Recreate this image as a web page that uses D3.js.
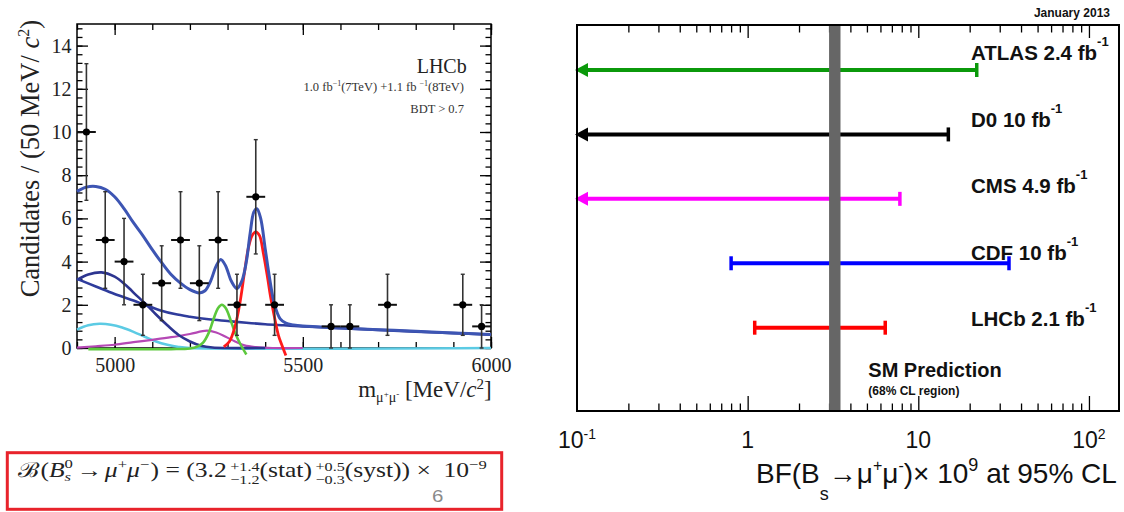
<!DOCTYPE html>
<html><head><meta charset="utf-8">
<script src="https://cdn.jsdelivr.net/npm/d3@7"></script>
<style>body{margin:0;background:#fff}svg{display:block}</style>
</head><body>
<svg id="c" width="1124" height="512"></svg>
<script>
// ---------- Left panel data (LHCb mass fit) ----------
const binCenters = [4925,4975,5025,5075,5125,5175,5225,5275,5325,5375,5425,5575,5625,5725,5925,5975];
const binCounts  = [10,5,4,2,3,5,3,5,2,7,2,1,1,2,2,1];
const massTicks  = [5000,5500,6000];
const countTicks = [0,2,4,6,8,10,12,14];

const totalFit = [[4900,7.25],[4925,7.45],[4950,7.48],[4975,7.35],[5000,7.0],[5025,6.45],[5050,5.8],[5075,5.2],[5100,4.55],[5125,3.95],[5150,3.4],[5175,3.0],[5200,2.7],[5225,2.55],[5240,2.65],[5255,3.1],[5270,3.8],[5282,4.1],[5295,3.8],[5310,3.1],[5325,2.75],[5338,3.1],[5350,4.0],[5360,5.3],[5370,6.3],[5378,6.45],[5388,6.0],[5400,4.6],[5412,3.2],[5425,2.0],[5440,1.35],[5455,1.15],[5475,1.07],[5500,1.02],[5600,0.93],[5700,0.85],[5800,0.77],[5900,0.7],[6000,0.63]];
const combBkg  = [[4900,3.2],[4950,2.85],[5000,2.5],[5050,2.2],[5080,2.0],[5120,1.75],[5160,1.57],[5200,1.45],[5250,1.33],[5300,1.25],[5350,1.17],[5400,1.1],[5450,1.05],[5500,1.0],[5600,0.92],[5700,0.84],[5800,0.76],[5900,0.69],[6000,0.62]];
const peakBkg  = [[4900,3.15],[4930,3.4],[4965,3.5],[5000,3.3],[5030,2.9],[5060,2.4],[5085,2.0],[5110,1.55],[5140,1.05],[5170,0.6],[5200,0.3],[5230,0.1],[5260,0.02],[5300,0.0],[5400,0.0]];
const cyanBkg  = [[4900,0.85],[4930,1.05],[4960,1.12],[4990,1.08],[5020,0.95],[5050,0.75],[5080,0.52],[5110,0.3],[5140,0.15],[5170,0.05],[5200,0.0],[6000,0.0]];
const pimunuBkg= [[4900,0.02],[4950,0.08],[5000,0.15],[5050,0.27],[5100,0.38],[5150,0.5],[5200,0.65],[5245,0.8],[5270,0.72],[5295,0.52],[5320,0.3],[5345,0.12],[5375,0.04],[5420,0.0],[5500,0.0]];
const bdSignal = [[4930,-0.05],[5150,-0.05],[5200,-0.02],[5218,0.05],[5235,0.25],[5250,0.7],[5262,1.3],[5275,1.85],[5285,2.0],[5295,1.85],[5308,1.3],[5320,0.7],[5335,0.15],[5350,-0.3]];
const bsSignal = [[5290,0.05],[5305,0.3],[5320,1.0],[5333,2.1],[5345,3.5],[5355,4.6],[5365,5.2],[5375,5.38],[5385,5.2],[5395,4.4],[5405,3.4],[5415,2.3],[5425,1.4],[5435,0.6],[5445,0.1],[5455,-0.35]];

// ---------- Right panel data (limits summary) ----------
const experiments = ["ATLAS 2.4 fb","D0 10 fb","CMS 4.9 fb","CDF 10 fb","LHCb 2.1 fb"];
const lowerLimit  = [null,null,null,0.8,1.1];
const upperLimit  = [22,15,7.8,34,6.4];
const expColors   = ["#0b990b","#000000","#ff00ff","#0000ff","#ff0000"];
const smBand      = [3.0,3.5];
const bfTickValues= [0.1,1,10,100];
const bfTickBase  = ["10","1","10","10"];
const bfTickExp   = ["-1","","","2"];

const svg = d3.select("#c");
const serif = "'Liberation Serif','Times New Roman',Times,serif";
const sans  = "'Liberation Sans',Arial,Helvetica,sans-serif";

// ================= LEFT PANEL =================
const xm = d3.scaleLinear().domain([4900,6000]).range([77,491]);
const ym = d3.scaleLinear().domain([0,15]).range([348,24]);
const gl = svg.append("g").attr("font-family", serif);

function styleAxis(g){ g.select(".domain").remove(); g.selectAll("line").attr("stroke","#000").attr("stroke-width",1.3); g.selectAll("text").attr("fill","#222").attr("font-family",serif).attr("font-size",20); }
const xMinor = d3.range(4900,6001,100);
const yMinor = d3.range(0,15.01,0.4);
const fmt = d3.format("d");

gl.append("g").attr("transform","translate(0,348)").call(d3.axisBottom(xm).tickValues(xMinor).tickSize(-6).tickFormat("")).call(styleAxis);
gl.append("g").attr("transform","translate(0,24)").call(d3.axisTop(xm).tickValues(xMinor).tickSize(-6).tickFormat("")).call(styleAxis);
gl.append("g").attr("transform","translate(0,348)").call(d3.axisBottom(xm).tickValues(massTicks).tickSize(-11).tickPadding(9.5).tickFormat(fmt)).call(styleAxis);
gl.append("g").attr("transform","translate(0,24)").call(d3.axisTop(xm).tickValues(massTicks).tickSize(-11).tickFormat("")).call(styleAxis);
gl.append("g").attr("transform","translate(77,0)").call(d3.axisLeft(ym).tickValues(yMinor).tickSize(-5.5).tickFormat("")).call(styleAxis);
gl.append("g").attr("transform","translate(491,0)").call(d3.axisRight(ym).tickValues(yMinor).tickSize(-5.5).tickFormat("")).call(styleAxis);
gl.append("g").attr("transform","translate(77,0)").call(d3.axisLeft(ym).tickValues(countTicks).tickSize(-11).tickPadding(5.5).tickFormat(fmt)).call(styleAxis);
gl.append("g").attr("transform","translate(491,0)").call(d3.axisRight(ym).tickValues(countTicks).tickSize(-11).tickFormat("")).call(styleAxis);

gl.append("rect").attr("x",xm(4900)).attr("y",ym(15)).attr("width",xm(6000)-xm(4900)).attr("height",ym(0)-ym(15))
  .attr("fill","none").attr("stroke","#000").attr("stroke-width",1.5);

const line = d3.line().x(d=>xm(d[0])).y(d=>ym(d[1])).curve(d3.curveCatmullRom.alpha(0.5));
const curves = [
  {d:cyanBkg,  c:"#5ccbe4", w:2.5},
  {d:pimunuBkg,c:"#b548b5", w:2.2},
  {d:peakBkg,  c:"#2d3590", w:2.6},
  {d:combBkg,  c:"#2f3c9c", w:2.6},
  {d:bdSignal, c:"#5cc83c", w:2.6},
  {d:bsSignal, c:"#ff1a1a", w:2.8},
  {d:totalFit, c:"#3d55b3", w:3}
];
gl.append("g").selectAll("path").data(curves).join("path")
  .attr("d",d=>line(d.d)).attr("fill","none").attr("stroke",d=>d.c).attr("stroke-width",d=>d.w).attr("stroke-linejoin","round");

// data points
const pts = binCenters.map((c,i)=>({x:c,y:binCounts[i],e:Math.sqrt(binCounts[i])}));
const gp = gl.append("g");
gp.selectAll(".ev").data(pts).join("line").attr("x1",d=>xm(d.x)).attr("x2",d=>xm(d.x))
  .attr("y1",d=>ym(d.y-d.e)).attr("y2",d=>ym(d.y+d.e)).attr("stroke","#333").attr("stroke-width",1.6);
gp.selectAll(".cap1").data(pts).join("line").attr("x1",d=>xm(d.x)-2).attr("x2",d=>xm(d.x)+2)
  .attr("y1",d=>ym(d.y+d.e)).attr("y2",d=>ym(d.y+d.e)).attr("stroke","#333").attr("stroke-width",1.4);
gp.selectAll(".cap2").data(pts).join("line").attr("x1",d=>xm(d.x)-2).attr("x2",d=>xm(d.x)+2)
  .attr("y1",d=>ym(d.y-d.e)).attr("y2",d=>ym(d.y-d.e)).attr("stroke","#333").attr("stroke-width",1.4);
gp.selectAll(".eh").data(pts).join("line").attr("x1",d=>xm(d.x-25)).attr("x2",d=>xm(d.x+25))
  .attr("y1",d=>ym(d.y)).attr("y2",d=>ym(d.y)).attr("stroke","#111").attr("stroke-width",2);
gp.selectAll("circle").data(pts).join("circle").attr("cx",d=>xm(d.x)).attr("cy",d=>ym(d.y)).attr("r",3.6).attr("fill","#000");

// labels
gl.append("text").attr("x",466.7).attr("y",73).attr("text-anchor","end").attr("font-size",20).attr("fill","#222").text("LHCb");
const t1 = gl.append("text").attr("x",464).attr("y",90.7).attr("text-anchor","end").attr("font-size",12.5).attr("fill","#333");
t1.append("tspan").text("1.0 fb");
t1.append("tspan").attr("font-size",8).attr("dy",-5).text("−1");
t1.append("tspan").attr("dy",5).text("(7TeV) +1.1 fb ");
t1.append("tspan").attr("font-size",8).attr("dy",-5).text("−1");
t1.append("tspan").attr("dy",5).text("(8TeV)");
gl.append("text").attr("x",464).attr("y",112.7).attr("text-anchor","end").attr("font-size",12.5).attr("fill","#333").text("BDT > 0.7");

const yl = gl.append("text").attr("transform","translate(39,20) rotate(-90)").attr("text-anchor","end").attr("font-size",26.5).attr("fill","#222");
yl.append("tspan").text("Candidates / (50 MeV/ ");
yl.append("tspan").attr("font-style","italic").text("c");
yl.append("tspan").attr("font-size",16).attr("dy",-10).text("2");
yl.append("tspan").attr("dy",10).text(")");

const xl = gl.append("text").attr("x",491.7).attr("y",396.7).attr("text-anchor","end").attr("font-size",23).attr("fill","#222");
xl.append("tspan").text("m");
xl.append("tspan").attr("font-size",14).attr("dy",5).text("μ");
xl.append("tspan").attr("font-size",9).attr("dy",-5).text("+");
xl.append("tspan").attr("font-size",14).attr("dy",5).text("μ");
xl.append("tspan").attr("font-size",9).attr("dy",-5).text("-");
xl.append("tspan").text(" [MeV/");
xl.append("tspan").attr("font-style","italic").text("c");
xl.append("tspan").attr("font-size",15).attr("dy",-8).text("2");
xl.append("tspan").attr("dy",8).text("]");

// formula box
svg.append("rect").attr("x",7.3).attr("y",452.7).attr("width",494.4).attr("height",56.6)
  .attr("fill","#fff").attr("stroke","#e8232b").attr("stroke-width",3);
const gf = svg.append("g").attr("font-family",serif).attr("fill","#222");
function mathLine(g, parts, x0, base, fs){
  let x = x0;
  parts.forEach(p=>{
    if (p.stack){
      const sz = fs*(p.s||0.63);
      const a = g.append("text").attr("x",x).attr("y",base+(p.up||-0.3)*fs).attr("font-size",sz).text(p.stack[0]);
      const b = g.append("text").attr("x",x).attr("y",base+(p.dn||0.33)*fs).attr("font-size",sz).text(p.stack[1]);
      if (p.itSub) b.attr("font-style","italic");
      x += Math.max(a.node().getComputedTextLength(), b.node().getComputedTextLength()) + (p.pad||0)*fs;
    } else {
      const t = g.append("text").attr("x",x).attr("y",base+(p.dy||0)*fs).attr("font-size",fs*(p.s||1)).text(p.t);
      if (p.it) t.attr("font-style","italic");
      if (p.fam) t.attr("font-family",p.fam);
      if (p.fill) t.attr("fill",p.fill);
      x += t.node().getComputedTextLength() + (p.pad||0)*fs;
    }
  });
  return x;
}
const fx0 = 18.3, fx1 = 486.7;
const fEnd = mathLine(gf,[
  {t:"ℬ",pad:0.04},{t:"("},{t:"B",it:1},{stack:["0","s"],itSub:1,up:-0.45,dn:0.2,s:0.65,pad:0.15},
  {t:"→ ",pad:0.1},{t:"μ",it:1},{t:"+",s:0.65,dy:-0.42},{t:"μ",it:1},{t:"−",s:0.65,dy:-0.42,pad:0.05},
  {t:") = (3.2",pad:0.14},{stack:["+1.4","−1.2"]},{t:"(stat)",pad:0.14},{stack:["+0.5","−0.3"]},
  {t:"(syst)) ×",pad:0.05},{t:"6",fam:sans,fill:"#8a8a8a",s:0.8,dy:1.2},{t:"10"},{t:"−9",s:0.65,dy:-0.42}
], fx0, 477.3, 20.5);
const fsx = (fx1-fx0)/(fEnd-fx0);
gf.attr("transform",`translate(${fx0},0) scale(${fsx},1) translate(${-fx0},0)`);

// ================= RIGHT PANEL =================
const xr = d3.scaleLog().domain([0.1,150]).range([577,1119]);
const yr = d3.scalePoint().domain(experiments).range([70,327.7]);
const yLab = d3.scalePoint().domain(experiments).range([60,326]);
const gr = svg.append("g").attr("font-family",sans);

const allT = xr.ticks().filter(v=>v>0.1);
const isMajor = v => Math.abs(Math.log10(v)-Math.round(Math.log10(v)))<1e-9;
const majT = allT.filter(isMajor), minT = allT.filter(v=>!isMajor(v));
function styleR(g){ g.select(".domain").remove(); g.selectAll("line").attr("stroke","#000").attr("stroke-width",1.3); }
gr.append("g").attr("transform","translate(0,411)").call(d3.axisBottom(xr).tickValues(minT).tickSize(-7.5).tickFormat("")).call(styleR);
gr.append("g").attr("transform","translate(0,411)").call(d3.axisBottom(xr).tickValues(majT).tickSize(-15).tickFormat("")).call(styleR);
gr.append("g").attr("transform","translate(0,25)").call(d3.axisTop(xr).tickValues(minT).tickSize(-7.5).tickFormat("")).call(styleR);
gr.append("g").attr("transform","translate(0,25)").call(d3.axisTop(xr).tickValues(majT).tickSize(-13).tickFormat("")).call(styleR);

// tick labels
bfTickValues.forEach((v,i)=>{
  const t = gr.append("text").attr("x",xr(v)).attr("y",448.3).attr("text-anchor","middle").attr("font-size",23).attr("fill","#111");
  t.append("tspan").text(bfTickBase[i]);
  if (bfTickExp[i]) t.append("tspan").attr("font-size",14).attr("dy",-9).text(bfTickExp[i]);
});

// limit bars
const gb = gr.append("g");
experiments.forEach((e,i)=>{
  const y = yr(e), c = expColors[i];
  const lo = lowerLimit[i];
  const x0 = lo===null ? xr(0.1)+10 : xr(lo);
  gb.append("line").attr("x1",x0).attr("x2",xr(upperLimit[i])).attr("y1",y).attr("y2",y).attr("stroke",c).attr("stroke-width",4);
  gb.append("line").attr("x1",xr(upperLimit[i])).attr("x2",xr(upperLimit[i])).attr("y1",y-7).attr("y2",y+7).attr("stroke",c).attr("stroke-width",3.5);
  if (lo===null){
    const tip = xr(0.1)-2;
    gb.append("path").attr("d",`M${tip},${y}L${tip+13},${y-7}L${tip+13},${y+7}Z`).attr("fill",c);
  } else {
    gb.append("line").attr("x1",x0).attr("x2",x0).attr("y1",y-7).attr("y2",y+7).attr("stroke",c).attr("stroke-width",3.5);
  }
  const lt = gr.append("text").attr("x",971).attr("y",yLab(e)).attr("font-size",20.5).attr("font-weight","bold").attr("fill","#111");
  lt.append("tspan").text(e);
  lt.append("tspan").attr("font-size",13).attr("dy",-14).text("-1");
});

// SM band
gr.append("rect").attr("x",xr(smBand[0])).attr("width",xr(smBand[1])-xr(smBand[0])).attr("y",25).attr("height",386).attr("fill","#666");

gr.append("text").attr("x",868.3).attr("y",377.3).attr("font-size",20).attr("font-weight","bold").attr("fill","#111").text("SM Prediction");
gr.append("text").attr("x",868.3).attr("y",395).attr("font-size",12).attr("font-weight","bold").attr("fill","#111").text("(68% CL region)");
gr.append("text").attr("x",1110).attr("y",17).attr("text-anchor","end").attr("font-size",12).attr("font-weight","bold").attr("fill","#111").text("January 2013");

// frame
gr.append("rect").attr("x",577).attr("y",25).attr("width",542).attr("height",386).attr("fill","none").attr("stroke","#000").attr("stroke-width",2);

// axis title
const xt = gr.append("text").attr("x",756).attr("y",483).attr("font-size",28).attr("fill","#111");
xt.append("tspan").text("BF(B");
xt.append("tspan").attr("font-size",18).attr("dy",17).text("s");
xt.append("tspan").attr("dy",-17).text("→μ");
xt.append("tspan").attr("font-size",16).attr("dy",-12).text("+");
xt.append("tspan").attr("dy",12).text("μ");
xt.append("tspan").attr("font-size",16).attr("dy",-12).text("-");
xt.append("tspan").attr("dy",12).text(")× 10");
xt.append("tspan").attr("font-size",18).attr("dy",-12).text("9");
xt.append("tspan").attr("dy",12).text(" at 95% CL");
</script>
</body></html>
